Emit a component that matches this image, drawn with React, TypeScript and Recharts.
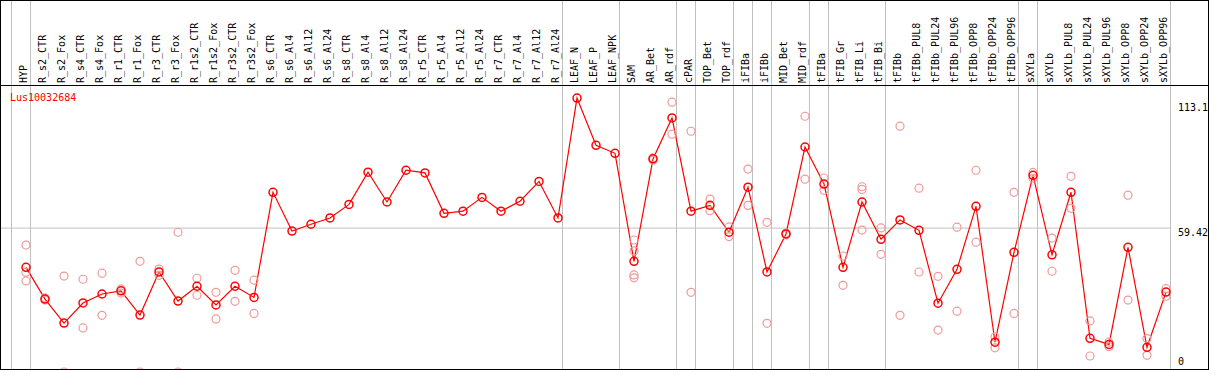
import { ComposedChart, Line, Scatter, XAxis, YAxis, ReferenceLine } from 'recharts'

const geneName = 'Lus10032684'

const categories = [
  'HYP', 'R_s2_CTR', 'R_s2_Fox', 'R_s4_CTR', 'R_s4_Fox', 'R_r1_CTR', 'R_r1_Fox', 'R_r3_CTR', 'R_r3_Fox',
  'R_r1s2_CTR', 'R_r1s2_Fox', 'R_r3s2_CTR', 'R_r3s2_Fox', 'R_s6_CTR', 'R_s6_Al4', 'R_s6_Al12', 'R_s6_Al24',
  'R_s8_CTR', 'R_s8_Al4', 'R_s8_Al12', 'R_s8_Al24', 'R_r5_CTR', 'R_r5_Al4', 'R_r5_Al12', 'R_r5_Al24',
  'R_r7_CTR', 'R_r7_Al4', 'R_r7_Al12', 'R_r7_Al24', 'LEAF_N', 'LEAF_P', 'LEAF_NPK', 'SAM', 'AR_Bet', 'AR_rdf',
  'cPAR', 'TOP_Bet', 'TOP_rdf', 'iFIBa', 'iFIBb', 'MID_Bet', 'MID_rdf', 'tFIBa', 'tFIB_Gr', 'tFIB_Li', 'tFIB_Bi',
  'tFIBb', 'tFIBb_PUL8', 'tFIBb_PUL24', 'tFIBb_PUL96', 'tFIBb_OPP8', 'tFIBb_OPP24', 'tFIBb_OPP96',
  'sXYLa', 'sXYLb', 'sXYLb_PUL8', 'sXYLb_PUL24', 'sXYLb_PUL96', 'sXYLb_OPP8', 'sXYLb_OPP24', 'sXYLb_OPP96',
]

// mean expression per sample
const means = [
  43.2, 30.1, 20.2, 28.5, 32.2, 33.5, 23.5, 41.3, 29.3,
  35.4, 27.7, 35.4, 30.8, 74.2, 58.2, 61.0, 63.6,
  69.2, 82.5, 70.2, 83.3, 82.2, 65.5, 66.4, 72.1,
  66.4, 70.5, 78.7, 63.6, 113.1, 93.6, 90.3, 45.7, 88.0, 104.9,
  66.4, 68.8, 57.7, 76.3, 41.3, 57.0, 92.9, 77.6, 43.2, 70.2, 54.8,
  62.8, 58.5, 28.4, 42.4, 68.4, 12.3, 49.4,
  81.2, 48.4, 74.2, 13.9, 11.4, 51.5, 10.2, 33.0,
]

// individual replicates (faint circles)
const replicates: number[][] = [
  [52.4, 41.2, 37.6], [30.6, 29.7], [39.6, 0], [38.3, 18.2], [40.8, 23.4], [34.3, 32.6], [45.7, 0], [42.5, 39.9], [57.7, 0],
  [38.7, 31.7], [32.9, 21.9], [42.0, 29.2], [37.9, 24.2], [], [], [], [],
  [], [], [], [], [], [], [], [],
  [], [], [], [], [], [], [], [54.5, 50.0, 40.1, 38.9], [88.4, 87.5], [111.4, 98.2],
  [99.4, 32.9], [71.4, 66.6], [59.9, 55.9], [83.8, 68.8], [61.8, 20.1], [57.4, 56.6], [105.6, 79.6], [80.1, 75.0], [47.9, 35.8], [76.5, 75.4, 58.6], [59.5, 48.6],
  [101.5, 23.4], [75.9, 41.3], [39.5, 17.3], [59.8, 25.1], [83.3, 53.6], [14.5, 10.0], [74.2, 24.2],
  [82.4, 80.0], [55.3, 41.6], [80.8, 67.6], [21.1, 6.6], [12.3, 10.5], [73.0, 29.7], [13.8, 6.9], [34.4, 31.3],
]

// index of first sample of each group (vertical separators)
const groupStarts = [0, 1, 29, 32, 35, 36, 38, 39, 40, 42, 43, 46, 53, 54, 61]
const yTicks = [0, 59.42, 113.1]

const lineData = categories.map((name, i) => ({ i, name, mean: means[i] }))
const repData = replicates.flatMap((reps, i) => reps.map((v) => ({ i, v })))

const mono = '"DejaVu Sans Mono", monospace'
const grey = '#c0c0c0'

function HeaderTick(props: any) {
  const { x, payload } = props
  return (
    <text transform={`translate(${x + 1},83) rotate(-90)`} fontSize={10} fontFamily={mono} fill="#000">
      {categories[payload.value]}
    </text>
  )
}

function ValueTick(props: any) {
  const { x, y, payload } = props
  const v = payload.value
  const dy = v === 0 ? -7 : v === 113.1 ? 13 : 8
  return (
    <text x={x} y={y + dy} fontSize={10} fontFamily={mono} fill="#000" textAnchor="start">
      {v}
    </text>
  )
}

function GroupLine(p: any) {
  return <line x1={p.x1 + 0.5} x2={p.x2 + 0.5} y1={0} y2={Math.max(p.y1, p.y2)} stroke={grey} strokeWidth={1} />
}

function MeanDot(p: any) {
  return <circle cx={p.cx} cy={p.cy} r={4} fill="none" stroke="#ff0000" strokeWidth={1.5} />
}

function RepDot(p: any) {
  return <circle cx={p.cx} cy={p.cy} r={4} fill="none" stroke="#f09999" strokeWidth={1.2} />
}

export default function App() {
  return (
    <div style={{ position: 'fixed', left: 0, top: 0, width: 1209, height: 370, overflow: 'hidden', background: '#fff' }}>
      <div style={{ position: 'absolute', left: 0, top: 0 }}>
        <ComposedChart width={1209} height={373} data={lineData} margin={{ top: 0, right: 0, bottom: 1, left: 1 }}>
          <XAxis
            xAxisId={0}
            orientation="top"
            type="number"
            dataKey="i"
            height={86}
            domain={[-25 / 19, 60 + 4 / 19]}
            ticks={categories.map((_, i) => i)}
            interval={0}
            axisLine={false}
            tickLine={false}
            tick={<HeaderTick />}
          />
          <YAxis
            orientation="right"
            type="number"
            width={39}
            domain={[0, 118.09]}
            allowDataOverflow
            ticks={yTicks}
            interval={0}
            axisLine={false}
            tickLine={false}
            tick={<ValueTick />}
          />
          <ReferenceLine y={59.42} stroke={grey} />
          {groupStarts.map((k) => (
            <ReferenceLine key={k} x={k - 15 / 19} stroke={grey} ifOverflow="visible" shape={<GroupLine />} />
          ))}
          <Scatter data={repData} dataKey="v" shape={<RepDot />} isAnimationActive={false} />
          <Line
            type="linear"
            dataKey="mean"
            stroke="#ff0000"
            strokeWidth={1.2}
            dot={<MeanDot />}
            activeDot={false}
            isAnimationActive={false}
          />
        </ComposedChart>
      </div>
      <div style={{ position: 'absolute', left: 10, top: 92, fontSize: 10, lineHeight: '12px', fontFamily: mono, color: '#ff0000' }}>
        {geneName}
      </div>
      <div style={{ position: 'absolute', left: 0, top: 85, width: 1209, height: 1, background: '#000' }} />
      <div style={{ position: 'absolute', left: 0, top: 0, width: 1209, height: 370, boxSizing: 'border-box', border: '1px solid #000', pointerEvents: 'none' }} />
    </div>
  )
}
